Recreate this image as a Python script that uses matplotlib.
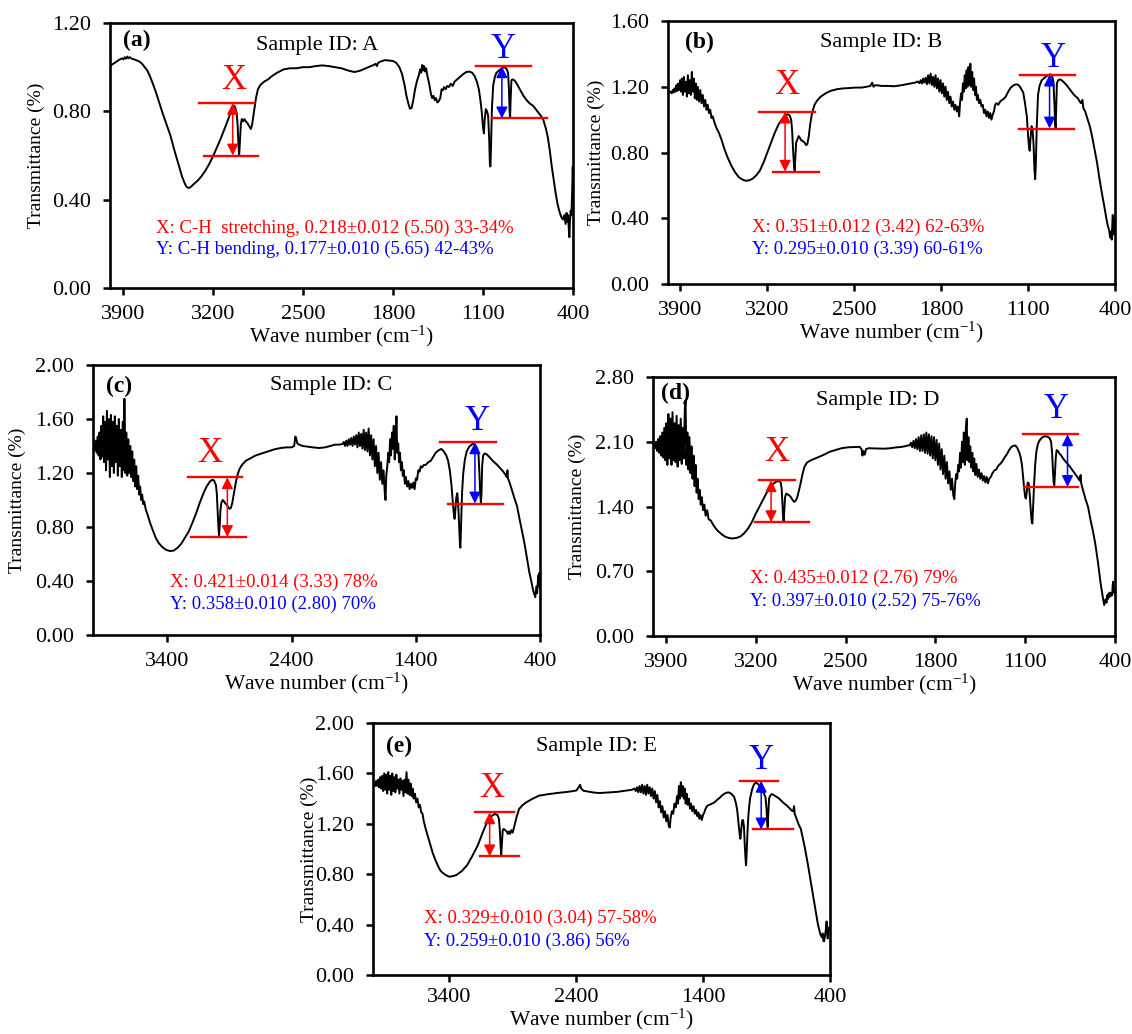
import matplotlib
matplotlib.use('Agg')
import matplotlib.pyplot as plt

plt.rcParams['font.family'] = ['Liberation Serif', 'DejaVu Serif']
plt.rcParams['mathtext.fontset'] = 'custom'
plt.rcParams['mathtext.rm'] = 'Liberation Serif'
plt.rcParams['mathtext.it'] = 'Liberation Serif:italic'

# ---------------- Spectrum data (wavenumber, transmittance) ----------------
a_points = [
    (4000, 1.005), (3975, 1.015), (3950, 1.025), (3925, 1.035), (3905, 1.04), (3895, 1.035), (3885, 1.045),
    (3875, 1.038), (3865, 1.048), (3855, 1.04), (3845, 1.045), (3830, 1.038), (3810, 1.035), (3790, 1.03),
    (3770, 1.025), (3750, 1.015), (3730, 1.0), (3710, 0.985), (3690, 0.96), (3670, 0.93), (3645, 0.89),
    (3620, 0.845), (3590, 0.79), (3560, 0.74), (3530, 0.69), (3500, 0.625), (3470, 0.565), (3440, 0.505),
    (3420, 0.475), (3405, 0.458), (3390, 0.453), (3375, 0.456), (3350, 0.47), (3320, 0.485), (3290, 0.505),
    (3260, 0.53), (3230, 0.56), (3200, 0.595), (3170, 0.635), (3140, 0.675), (3110, 0.72), (3080, 0.765),
    (3060, 0.80), (3045, 0.82), (3035, 0.826), (3025, 0.815), (3015, 0.79), (3008, 0.74), (3002, 0.66),
    (2996, 0.60), (2990, 0.66), (2983, 0.74), (2975, 0.765), (2965, 0.755), (2955, 0.765), (2945, 0.755),
    (2930, 0.745), (2915, 0.73), (2905, 0.72), (2895, 0.74), (2880, 0.80), (2865, 0.86), (2850, 0.90),
    (2830, 0.92), (2800, 0.935), (2770, 0.945), (2740, 0.96), (2700, 0.975), (2650, 0.99), (2600, 0.995),
    (2550, 0.995), (2500, 1.0), (2450, 1.0), (2400, 1.005), (2350, 1.008), (2300, 1.005), (2250, 1.0),
    (2200, 0.995), (2150, 0.985), (2100, 0.978), (2060, 0.983), (2020, 0.993), (1980, 1.003), (1950, 1.01),
    (1935, 1.015), (1925, 1.005), (1915, 1.02), (1890, 1.027), (1860, 1.032), (1830, 1.03), (1800, 1.028),
    (1775, 1.02), (1750, 1.0), (1730, 0.97), (1710, 0.92), (1695, 0.87), (1680, 0.835), (1668, 0.812),
    (1655, 0.815), (1642, 0.85), (1628, 0.9), (1612, 0.94), (1598, 0.965), (1588, 0.99), (1580, 0.975),
    (1572, 1.01), (1565, 0.985), (1558, 1.005), (1550, 0.98), (1542, 0.995), (1532, 0.96), (1520, 0.93),
    (1505, 0.88), (1495, 0.86), (1485, 0.87), (1475, 0.85), (1465, 0.86), (1455, 0.84), (1445, 0.845),
    (1432, 0.86), (1422, 0.90), (1412, 0.895), (1402, 0.91), (1390, 0.9), (1378, 0.915), (1365, 0.91),
    (1350, 0.925), (1335, 0.915), (1320, 0.935), (1300, 0.945), (1280, 0.955), (1255, 0.968), (1230, 0.978),
    (1205, 0.98), (1185, 0.975), (1165, 0.96), (1148, 0.935), (1132, 0.90), (1120, 0.85), (1110, 0.80),
    (1100, 0.73), (1093, 0.70), (1087, 0.76), (1078, 0.81), (1068, 0.80), (1060, 0.78), (1052, 0.68),
    (1046, 0.56), (1042, 0.55), (1037, 0.65), (1030, 0.82), (1020, 0.92), (1008, 0.955), (995, 0.975),
    (965, 0.99), (945, 0.998), (930, 1.0), (915, 0.99), (905, 0.975), (898, 0.90), (893, 0.80), (889, 0.77),
    (885, 0.85), (879, 0.94), (870, 0.945), (855, 0.94), (842, 0.93), (825, 0.912), (805, 0.89), (785, 0.87),
    (760, 0.85), (735, 0.835), (710, 0.825), (690, 0.81), (670, 0.795), (650, 0.78), (630, 0.76), (610, 0.72),
    (595, 0.68), (580, 0.62), (565, 0.55), (550, 0.49), (535, 0.43), (520, 0.38), (505, 0.345), (490, 0.32),
    (478, 0.31), (468, 0.33), (458, 0.29), (450, 0.34), (444, 0.30), (438, 0.33), (432, 0.26), (428, 0.23),
    (424, 0.30), (418, 0.35), (412, 0.33), (406, 0.45), (402, 0.55), (400, 0.50),
]

b_points = [
    (4000, 1.16), (3990, 1.165), (3980, 1.17), (3970, 1.16), (3962, 1.18), (3955, 1.165), (3948, 1.19),
    (3940, 1.17), (3932, 1.21), (3925, 1.175), (3918, 1.22), (3910, 1.18), (3902, 1.24), (3895, 1.17),
    (3888, 1.25), (3880, 1.15), (3872, 1.26), (3864, 1.17), (3856, 1.23), (3848, 1.14), (3840, 1.27),
    (3832, 1.16), (3824, 1.24), (3816, 1.15), (3808, 1.29), (3800, 1.17), (3792, 1.25), (3784, 1.13),
    (3776, 1.22), (3768, 1.12), (3760, 1.20), (3750, 1.11), (3740, 1.18), (3730, 1.10), (3720, 1.15),
    (3710, 1.08), (3700, 1.12), (3690, 1.06), (3680, 1.09), (3670, 1.04), (3660, 1.06), (3650, 1.01),
    (3640, 1.02), (3625, 0.98), (3610, 0.95), (3590, 0.92), (3570, 0.88), (3545, 0.82), (3520, 0.77),
    (3490, 0.72), (3460, 0.68), (3430, 0.65), (3400, 0.635), (3375, 0.628), (3350, 0.63), (3320, 0.64),
    (3290, 0.66), (3260, 0.69), (3230, 0.74), (3200, 0.80), (3170, 0.86), (3140, 0.92), (3110, 0.97),
    (3080, 1.005), (3055, 1.025), (3035, 1.033), (3020, 1.025), (3008, 1.0), (3000, 0.93), (2993, 0.82),
    (2985, 0.72), (2980, 0.69), (2975, 0.76), (2968, 0.86), (2958, 0.88), (2948, 0.90), (2938, 0.89),
    (2928, 0.875), (2915, 0.87), (2900, 0.86), (2888, 0.845), (2878, 0.85), (2866, 0.90), (2855, 0.97),
    (2840, 1.04), (2820, 1.09), (2800, 1.115), (2770, 1.14), (2730, 1.16), (2690, 1.175), (2640, 1.185),
    (2590, 1.19), (2540, 1.192), (2490, 1.195), (2440, 1.195), (2400, 1.2), (2370, 1.205), (2355, 1.225),
    (2345, 1.2), (2330, 1.21), (2280, 1.205), (2230, 1.205), (2180, 1.203), (2130, 1.208), (2080, 1.215),
    (2040, 1.22), (2010, 1.225), (1990, 1.232), (1975, 1.222), (1965, 1.24), (1955, 1.22), (1945, 1.25),
    (1935, 1.225), (1925, 1.255), (1915, 1.215), (1905, 1.27), (1895, 1.22), (1885, 1.28), (1875, 1.21),
    (1865, 1.26), (1855, 1.2), (1845, 1.27), (1835, 1.19), (1825, 1.25), (1815, 1.17), (1805, 1.24),
    (1795, 1.16), (1785, 1.22), (1775, 1.14), (1765, 1.2), (1755, 1.12), (1745, 1.17), (1735, 1.1),
    (1725, 1.14), (1715, 1.08), (1705, 1.11), (1695, 1.06), (1685, 1.09), (1675, 1.05), (1665, 1.08),
    (1655, 1.02), (1648, 1.10), (1640, 1.16), (1632, 1.12), (1625, 1.22), (1618, 1.17), (1610, 1.27),
    (1602, 1.19), (1595, 1.30), (1588, 1.2), (1580, 1.32), (1572, 1.21), (1565, 1.34), (1558, 1.2),
    (1550, 1.29), (1542, 1.18), (1535, 1.25), (1527, 1.15), (1520, 1.2), (1512, 1.12), (1505, 1.15),
    (1495, 1.1), (1485, 1.12), (1475, 1.08), (1465, 1.09), (1455, 1.04), (1445, 1.06), (1435, 1.02),
    (1425, 1.05), (1415, 1.01), (1405, 1.04), (1395, 1.0), (1385, 1.03), (1375, 1.05), (1365, 1.09),
    (1355, 1.1), (1340, 1.09), (1325, 1.11), (1310, 1.12), (1298, 1.125), (1280, 1.14), (1260, 1.17),
    (1240, 1.195), (1215, 1.21), (1195, 1.215), (1180, 1.212), (1165, 1.20), (1150, 1.18), (1139, 1.165),
    (1125, 1.10), (1110, 1.02), (1100, 0.90), (1092, 0.83), (1087, 0.81), (1081, 0.88), (1072, 0.96),
    (1064, 0.94), (1056, 0.85), (1049, 0.70), (1043, 0.638), (1038, 0.72), (1030, 0.96), (1020, 1.15),
    (1008, 1.205), (990, 1.24), (965, 1.256), (940, 1.27), (922, 1.276), (905, 1.26), (896, 1.23),
    (888, 1.10), (882, 0.98), (878, 0.95), (874, 1.05), (868, 1.22), (858, 1.24), (840, 1.245), (815, 1.23),
    (790, 1.21), (760, 1.18), (730, 1.15), (700, 1.13), (675, 1.10), (662, 1.12), (655, 1.07), (640, 1.05),
    (620, 1.00), (603, 0.96), (585, 0.90), (565, 0.82), (545, 0.74), (525, 0.64), (505, 0.55), (487, 0.476),
    (470, 0.40), (458, 0.354), (448, 0.33), (440, 0.29), (435, 0.28), (430, 0.32), (426, 0.27), (422, 0.36),
    (418, 0.42), (414, 0.34), (410, 0.40), (406, 0.30), (402, 0.36), (400, 0.33),
]

c_points = [
    (4000, 1.40), (3992, 1.42), (3985, 1.37), (3978, 1.44), (3970, 1.35), (3962, 1.47), (3955, 1.33),
    (3948, 1.50), (3940, 1.30), (3932, 1.55), (3925, 1.32), (3918, 1.62), (3910, 1.28), (3902, 1.58),
    (3895, 1.22), (3888, 1.66), (3880, 1.30), (3872, 1.60), (3864, 1.17), (3856, 1.63), (3848, 1.25),
    (3840, 1.58), (3832, 1.20), (3824, 1.62), (3816, 1.28), (3808, 1.55), (3800, 1.18), (3792, 1.60),
    (3784, 1.25), (3776, 1.52), (3768, 1.17), (3760, 1.58), (3752, 1.22), (3747, 1.75), (3740, 1.20),
    (3732, 1.50), (3724, 1.18), (3716, 1.45), (3708, 1.20), (3700, 1.40), (3692, 1.17), (3684, 1.36),
    (3676, 1.14), (3668, 1.30), (3660, 1.10), (3652, 1.25), (3644, 1.08), (3636, 1.18), (3628, 1.04),
    (3620, 1.10), (3612, 1.0), (3604, 1.04), (3596, 0.97), (3588, 0.99), (3575, 0.93), (3560, 0.89),
    (3540, 0.83), (3520, 0.78), (3495, 0.72), (3470, 0.68), (3440, 0.65), (3410, 0.63), (3380, 0.622),
    (3350, 0.625), (3320, 0.645), (3290, 0.675), (3260, 0.72), (3230, 0.765), (3200, 0.83), (3170, 0.90),
    (3140, 0.98), (3110, 1.05), (3085, 1.10), (3060, 1.135), (3040, 1.15), (3025, 1.145), (3010, 1.11),
    (3003, 1.05), (2996, 0.92), (2990, 0.80), (2985, 0.735), (2980, 0.80), (2974, 0.92), (2966, 0.98),
    (2955, 1.0), (2945, 0.99), (2935, 0.975), (2922, 0.965), (2910, 0.945), (2900, 0.935), (2890, 0.94),
    (2878, 0.98), (2865, 1.05), (2850, 1.13), (2835, 1.19), (2820, 1.23), (2800, 1.26), (2770, 1.29),
    (2730, 1.31), (2690, 1.33), (2640, 1.345), (2590, 1.36), (2540, 1.375), (2490, 1.385), (2440, 1.39),
    (2400, 1.39), (2380, 1.40), (2370, 1.47), (2362, 1.45), (2355, 1.42), (2340, 1.41), (2310, 1.40),
    (2270, 1.395), (2230, 1.39), (2180, 1.385), (2130, 1.39), (2090, 1.40), (2050, 1.41), (2020, 1.41),
    (1990, 1.415), (1980, 1.43), (1970, 1.40), (1960, 1.44), (1950, 1.40), (1940, 1.45), (1930, 1.41),
    (1920, 1.46), (1910, 1.40), (1900, 1.47), (1890, 1.41), (1880, 1.48), (1870, 1.39), (1860, 1.50),
    (1850, 1.40), (1840, 1.49), (1830, 1.38), (1820, 1.52), (1810, 1.37), (1800, 1.50), (1790, 1.36),
    (1780, 1.53), (1770, 1.33), (1760, 1.48), (1750, 1.30), (1740, 1.45), (1730, 1.25), (1720, 1.40),
    (1710, 1.20), (1700, 1.35), (1690, 1.15), (1680, 1.28), (1670, 1.12), (1660, 1.22), (1650, 1.05),
    (1644, 1.00), (1638, 1.18), (1630, 1.25), (1622, 1.35), (1615, 1.28), (1607, 1.45), (1600, 1.33),
    (1592, 1.50), (1585, 1.38), (1578, 1.55), (1570, 1.30), (1562, 1.45), (1556, 1.62), (1550, 1.35),
    (1542, 1.42), (1535, 1.28), (1528, 1.35), (1520, 1.22), (1512, 1.28), (1505, 1.18), (1497, 1.22),
    (1488, 1.12), (1480, 1.17), (1470, 1.10), (1460, 1.14), (1450, 1.08), (1440, 1.12), (1430, 1.09),
    (1420, 1.13), (1410, 1.08), (1400, 1.16), (1390, 1.15), (1380, 1.22), (1370, 1.21), (1360, 1.25),
    (1350, 1.24), (1335, 1.26), (1320, 1.26), (1300, 1.28), (1280, 1.29), (1260, 1.32), (1240, 1.35),
    (1215, 1.37), (1195, 1.378), (1175, 1.36), (1155, 1.33), (1140, 1.29), (1125, 1.21), (1112, 1.10),
    (1102, 0.98), (1094, 0.90), (1088, 0.86), (1082, 0.92), (1074, 1.02), (1066, 1.05), (1058, 0.95),
    (1050, 0.78), (1044, 0.66), (1041, 0.647), (1036, 0.80), (1028, 1.05), (1018, 1.20), (1005, 1.30),
    (990, 1.36), (970, 1.395), (950, 1.41), (938, 1.417), (920, 1.405), (905, 1.38), (895, 1.33),
    (888, 1.20), (882, 1.05), (876, 0.98), (871, 1.05), (866, 1.25), (858, 1.33), (845, 1.345),
    (825, 1.335), (800, 1.31), (775, 1.285), (750, 1.265), (725, 1.24), (700, 1.215), (680, 1.19),
    (668, 1.17), (662, 1.22), (658, 1.16), (645, 1.13), (625, 1.07), (605, 1.01), (585, 0.955), (565, 0.86),
    (545, 0.77), (526, 0.684), (505, 0.57), (485, 0.46), (468, 0.389), (455, 0.33), (445, 0.30), (438, 0.28),
    (432, 0.33), (427, 0.36), (423, 0.31), (418, 0.39), (414, 0.44), (410, 0.38), (406, 0.46), (402, 0.35),
    (400, 0.40),
]

d_points = [
    (4000, 2.06), (3992, 2.07), (3984, 2.03), (3976, 2.10), (3968, 2.00), (3960, 2.13), (3952, 1.98),
    (3944, 2.16), (3936, 1.95), (3928, 2.20), (3920, 1.93), (3912, 2.25), (3904, 1.90), (3896, 2.30),
    (3888, 1.85), (3880, 2.40), (3872, 1.92), (3864, 2.35), (3856, 1.85), (3848, 2.42), (3840, 1.90),
    (3832, 2.30), (3824, 1.88), (3816, 2.38), (3808, 1.83), (3800, 2.28), (3792, 1.90), (3784, 2.35),
    (3776, 1.86), (3768, 2.25), (3760, 1.92), (3752, 2.45), (3746, 2.55), (3740, 1.85), (3732, 2.20),
    (3724, 1.80), (3716, 2.15), (3708, 1.76), (3700, 2.05), (3692, 1.70), (3684, 1.95), (3676, 1.62),
    (3668, 1.85), (3660, 1.55), (3652, 1.70), (3644, 1.48), (3636, 1.58), (3628, 1.42), (3620, 1.50),
    (3610, 1.36), (3600, 1.42), (3590, 1.30), (3578, 1.36), (3566, 1.26), (3550, 1.25), (3530, 1.20),
    (3510, 1.16), (3490, 1.13), (3465, 1.10), (3440, 1.075), (3410, 1.06), (3382, 1.054), (3350, 1.06),
    (3320, 1.075), (3290, 1.11), (3260, 1.16), (3230, 1.23), (3200, 1.32), (3170, 1.40), (3140, 1.48),
    (3110, 1.56), (3088, 1.61), (3060, 1.65), (3040, 1.668), (3020, 1.677), (3005, 1.66), (2998, 1.60),
    (2992, 1.45), (2987, 1.30), (2982, 1.234), (2977, 1.35), (2971, 1.50), (2962, 1.54), (2950, 1.53),
    (2938, 1.52), (2925, 1.50), (2912, 1.47), (2900, 1.45), (2890, 1.46), (2878, 1.49), (2865, 1.56),
    (2850, 1.65), (2835, 1.75), (2820, 1.83), (2800, 1.875), (2770, 1.90), (2738, 1.918), (2700, 1.94),
    (2660, 1.965), (2626, 1.99), (2580, 2.01), (2530, 2.03), (2480, 2.04), (2420, 2.044), (2390, 2.045),
    (2375, 2.02), (2368, 1.95), (2360, 2.0), (2350, 1.96), (2340, 2.02), (2320, 2.03), (2280, 2.028),
    (2240, 2.025), (2200, 2.025), (2150, 2.03), (2100, 2.04), (2066, 2.044), (2040, 2.05), (2015, 2.06),
    (2000, 2.06), (1990, 2.09), (1980, 2.04), (1970, 2.11), (1960, 2.03), (1950, 2.13), (1940, 2.02),
    (1930, 2.15), (1920, 2.0), (1910, 2.17), (1900, 2.0), (1890, 2.18), (1880, 1.98), (1870, 2.20),
    (1860, 1.97), (1850, 2.18), (1840, 1.95), (1830, 2.16), (1820, 1.92), (1810, 2.15), (1800, 1.90),
    (1790, 2.12), (1780, 1.85), (1770, 2.08), (1760, 1.80), (1750, 2.02), (1740, 1.75), (1730, 1.95),
    (1720, 1.70), (1710, 1.88), (1700, 1.65), (1690, 1.78), (1680, 1.58), (1670, 1.70), (1660, 1.52),
    (1652, 1.48), (1645, 1.65), (1638, 1.75), (1630, 1.70), (1622, 1.85), (1615, 1.78), (1607, 1.98),
    (1600, 1.82), (1592, 2.10), (1585, 1.88), (1578, 2.20), (1570, 1.85), (1562, 2.25), (1555, 2.35),
    (1550, 1.90), (1542, 2.15), (1535, 1.88), (1528, 2.05), (1520, 1.82), (1512, 1.98), (1505, 1.78),
    (1497, 1.92), (1488, 1.74), (1480, 1.86), (1470, 1.72), (1460, 1.80), (1450, 1.70), (1440, 1.76),
    (1430, 1.68), (1420, 1.73), (1410, 1.66), (1400, 1.72), (1390, 1.65), (1380, 1.70), (1368, 1.72),
    (1355, 1.76), (1340, 1.79), (1325, 1.80), (1310, 1.84), (1295, 1.86), (1282, 1.88), (1260, 1.93),
    (1240, 1.97), (1226, 2.008), (1210, 2.04), (1195, 2.055), (1176, 2.06), (1160, 2.03), (1145, 1.98),
    (1136, 1.936), (1125, 1.85), (1115, 1.70), (1108, 1.60), (1100, 1.50), (1094, 1.486), (1088, 1.55),
    (1080, 1.66), (1072, 1.65), (1064, 1.52), (1056, 1.35), (1050, 1.25), (1044, 1.216), (1038, 1.40),
    (1030, 1.65), (1022, 1.85), (1012, 2.0), (1000, 2.08), (985, 2.12), (965, 2.15), (946, 2.159),
    (925, 2.155), (910, 2.14), (898, 2.10), (890, 1.98), (884, 1.80), (878, 1.66), (873, 1.63), (868, 1.75),
    (862, 1.92), (855, 2.01), (845, 2.0), (832, 1.97), (820, 1.954), (800, 1.91), (775, 1.87), (750, 1.828),
    (720, 1.77), (694, 1.72), (675, 1.68), (668, 1.74), (663, 1.65), (650, 1.58), (630, 1.48), (610, 1.396),
    (590, 1.25), (570, 1.12), (554, 1.0), (535, 0.82), (512, 0.569), (495, 0.42), (484, 0.335), (478, 0.37),
    (472, 0.40), (466, 0.36), (460, 0.44), (455, 0.40), (450, 0.46), (445, 0.42), (440, 0.47), (434, 0.43),
    (428, 0.46), (422, 0.44), (418, 0.55), (414, 0.587), (410, 0.50), (405, 0.47), (400, 0.45),
]

e_points = [
    (4000, 1.51), (3992, 1.52), (3984, 1.50), (3976, 1.54), (3968, 1.50), (3960, 1.55), (3952, 1.49),
    (3944, 1.57), (3936, 1.48), (3928, 1.58), (3920, 1.46), (3912, 1.60), (3904, 1.47), (3896, 1.59),
    (3888, 1.44), (3880, 1.61), (3872, 1.47), (3864, 1.58), (3856, 1.43), (3848, 1.60), (3840, 1.46),
    (3832, 1.57), (3824, 1.45), (3816, 1.59), (3808, 1.48), (3800, 1.55), (3792, 1.44), (3784, 1.56),
    (3776, 1.47), (3768, 1.54), (3760, 1.42), (3752, 1.55), (3744, 1.45), (3736, 1.61), (3728, 1.44),
    (3720, 1.55), (3712, 1.43), (3704, 1.52), (3696, 1.42), (3688, 1.48), (3680, 1.40), (3670, 1.44),
    (3660, 1.37), (3650, 1.40), (3640, 1.33), (3630, 1.35), (3620, 1.29), (3610, 1.28), (3600, 1.22),
    (3585, 1.16), (3570, 1.108), (3550, 1.04), (3530, 0.97), (3513, 0.924), (3490, 0.87), (3470, 0.83),
    (3456, 0.815), (3430, 0.795), (3400, 0.78), (3370, 0.785), (3344, 0.793), (3300, 0.825), (3259, 0.871),
    (3220, 0.94), (3174, 1.03), (3140, 1.12), (3103, 1.21), (3080, 1.245), (3061, 1.265), (3040, 1.278),
    (3020, 1.27), (3008, 1.24), (3001, 1.15), (2995, 1.02), (2990, 0.95), (2985, 1.03), (2978, 1.15),
    (2970, 1.16), (2960, 1.15), (2948, 1.14), (2938, 1.12), (2930, 1.14), (2920, 1.12), (2910, 1.15),
    (2900, 1.13), (2892, 1.16), (2870, 1.25), (2849, 1.318), (2820, 1.35), (2793, 1.37), (2750, 1.395),
    (2694, 1.423), (2620, 1.435), (2553, 1.444), (2480, 1.452), (2420, 1.46), (2397, 1.465), (2380, 1.49),
    (2369, 1.51), (2360, 1.48), (2341, 1.462), (2300, 1.455), (2260, 1.448), (2214, 1.444), (2150, 1.448),
    (2100, 1.452), (2072, 1.454), (2030, 1.46), (1990, 1.466), (1960, 1.47), (1940, 1.48), (1930, 1.46),
    (1920, 1.49), (1910, 1.45), (1900, 1.50), (1890, 1.45), (1880, 1.51), (1870, 1.44), (1860, 1.50),
    (1850, 1.43), (1840, 1.51), (1830, 1.44), (1820, 1.49), (1810, 1.42), (1800, 1.48), (1790, 1.40),
    (1780, 1.46), (1770, 1.37), (1760, 1.43), (1750, 1.33), (1740, 1.38), (1730, 1.29), (1720, 1.34),
    (1710, 1.25), (1700, 1.30), (1690, 1.22), (1680, 1.27), (1670, 1.18), (1662, 1.17), (1655, 1.25),
    (1645, 1.30), (1635, 1.28), (1625, 1.36), (1615, 1.33), (1605, 1.42), (1597, 1.36), (1590, 1.50),
    (1582, 1.40), (1575, 1.53), (1567, 1.42), (1560, 1.50), (1552, 1.40), (1545, 1.48), (1537, 1.36),
    (1530, 1.44), (1521, 1.35), (1512, 1.40), (1503, 1.32), (1495, 1.36), (1485, 1.30), (1475, 1.34),
    (1465, 1.28), (1455, 1.31), (1445, 1.26), (1437, 1.29), (1428, 1.24), (1420, 1.27), (1410, 1.23),
    (1400, 1.27), (1390, 1.29), (1380, 1.32), (1366, 1.344), (1350, 1.35), (1330, 1.36), (1310, 1.37),
    (1290, 1.39), (1270, 1.405), (1253, 1.423), (1230, 1.44), (1210, 1.448), (1197, 1.449), (1180, 1.44),
    (1165, 1.425), (1154, 1.41), (1140, 1.36), (1130, 1.30), (1120, 1.20), (1112, 1.12), (1106, 1.081),
    (1099, 1.15), (1092, 1.226), (1085, 1.23), (1078, 1.18), (1070, 1.00), (1064, 0.90), (1061, 0.871),
    (1056, 0.98), (1048, 1.18), (1041, 1.291), (1030, 1.40), (1013, 1.475), (1000, 1.51), (985, 1.528),
    (965, 1.515), (942, 1.475), (920, 1.44), (908, 1.41), (900, 1.32), (895, 1.22), (891, 1.173),
    (886, 1.28), (880, 1.40), (870, 1.425), (857, 1.436), (830, 1.42), (800, 1.40), (771, 1.37),
    (740, 1.345), (715, 1.32), (701, 1.304), (690, 1.30), (683, 1.34), (678, 1.28), (660, 1.23),
    (645, 1.19), (630, 1.16), (600, 1.02), (573, 0.871), (545, 0.70), (517, 0.53), (495, 0.40), (475, 0.32),
    (465, 0.30), (458, 0.33), (452, 0.27), (446, 0.268), (440, 0.31), (435, 0.34), (430, 0.38),
    (427, 0.425), (423, 0.33), (418, 0.29), (412, 0.35), (406, 0.38), (400, 0.36),
]

# ---------------- Axis ticks ----------------
a_yticks = [0.00, 0.40, 0.80, 1.20]
b_yticks = [0.00, 0.40, 0.80, 1.20, 1.60]
c_yticks = [0.00, 0.40, 0.80, 1.20, 1.60, 2.00]
d_yticks = [0.00, 0.70, 1.40, 2.10, 2.80]
e_yticks = [0.00, 0.40, 0.80, 1.20, 1.60, 2.00]
xticks_700 = [3900, 3200, 2500, 1800, 1100, 400]
xticks_1000 = [3400, 2400, 1400, 400]

# ---------------- Annotation values: (top level, top span, bottom level, bottom span, arrow x) --------
a_X = (0.838, (3306, 2882), 0.600, (3272, 2848), 3046)
a_Y = (1.004, (1151, 727), 0.768, (1029, 605), 953)
b_X = (1.049, (3268, 2819), 0.683, (3152, 2784), 3057)
b_Y = (1.274, (1168, 725), 0.946, (1174, 733), 927)
c_X = (1.168, (3238, 2797), 0.726, (3212, 2768), 2918)
c_Y = (1.427, (1203, 756), 0.974, (1144, 697), 924)
d_X = (1.684, (3172, 2892), 1.231, (3208, 2788), 3080)
d_Y = (2.180, (1114, 688), 1.612, (1108, 686), 770)
e_X = (1.291, (3197, 2886), 0.942, (3160, 2849), 3081)
e_Y = (1.541, (1106, 807), 1.155, (1004, 694), 942)

# Label texts
a_notes = ["X: C-H  stretching, 0.218\u00b10.012 (5.50) 33-34%", "Y: C-H bending, 0.177\u00b10.010 (5.65) 42-43%"]
b_notes = ["X: 0.351\u00b10.012 (3.42) 62-63%", "Y: 0.295\u00b10.010 (3.39) 60-61%"]
c_notes = ["X: 0.421\u00b10.014 (3.33) 78%", "Y: 0.358\u00b10.010 (2.80) 70%"]
d_notes = ["X: 0.435\u00b10.012 (2.76) 79%", "Y: 0.397\u00b10.010 (2.52) 75-76%"]
e_notes = ["X: 0.329\u00b10.010 (3.04) 57-58%", "Y: 0.259\u00b10.010 (3.86) 56%"]

RED = '#ff0000'
BLUE = '#0000ff'

W, H = 1132, 1034
fig = plt.figure(figsize=(W / 100, H / 100), dpi=100)


def rect(l, r, t, b):
    return [l / W, 1 - b / H, (r - l) / W, (b - t) / H]


panels = [
    dict(rect=rect(110, 573, 23, 288), pts=a_points, yt=a_yticks, xt=xticks_700, X=a_X, Y=a_Y,
         notes=a_notes, letter='(a)', sid='Sample ID: A', ylpad=5, xlpad=0, xpad=7,
         letter_pos=(3790, 1.12), sid_pos=(2387, 1.10), Xl=(3037, 0.94), Yl=(945, 1.08),
         note_pos=(3640, 0.272, 0.177)),
    dict(rect=rect(668, 1115, 21, 284), pts=b_points, yt=b_yticks, xt=xticks_700, X=b_X, Y=b_Y,
         notes=b_notes, letter='(b)', sid='Sample ID: B', ylpad=3.5, xlpad=0, xpad=7,
         letter_pos=(3750, 1.47), sid_pos=(2283, 1.472), Xl=(3042, 1.205), Yl=(898, 1.371),
         note_pos=(3321, 0.344, 0.213)),
    dict(rect=rect(93, 540, 365, 635), pts=c_points, yt=c_yticks, xt=xticks_1000, X=c_X, Y=c_Y,
         notes=c_notes, letter='(c)', sid='Sample ID: C', ylpad=6.5, xlpad=0, xpad=7,
         letter_pos=(3794, 1.84), sid_pos=(2085, 1.845), Xl=(3062, 1.348), Yl=(909, 1.58),
         note_pos=(3379, 0.389, 0.229)),
    dict(rect=rect(653, 1115, 377, 636), pts=d_points, yt=d_yticks, xt=xticks_700, X=d_X, Y=d_Y,
         notes=d_notes, letter='(d)', sid='Sample ID: D', ylpad=6.5, xlpad=0, xpad=7,
         letter_pos=(3825, 2.62), sid_pos=(2248, 2.548), Xl=(3032, 1.986), Yl=(862, 2.45),
         note_pos=(3248, 0.623, 0.371)),
    dict(rect=rect(373, 830, 723, 975), pts=e_points, yt=e_yticks, xt=xticks_1000, X=e_X, Y=e_Y,
         notes=e_notes, letter='(e)', sid='Sample ID: E', ylpad=-2, xlpad=0, xpad=4.5,
         letter_pos=(3792, 1.816), sid_pos=(2242, 1.816), Xl=(3061, 1.48), Yl=(942, 1.706),
         note_pos=(3598, 0.451, 0.268)),
]

for p in panels:
    ax = fig.add_axes(p['rect'])
    wn = [q[0] for q in p['pts']]
    tr = [q[1] for q in p['pts']]
    ax.plot(wn, tr, color='black', lw=1.4, solid_joinstyle='round')
    ax.set_xlim(4000, 400)
    ax.set_ylim(p['yt'][0], p['yt'][-1])
    ax.set_yticks(p['yt'])
    ax.set_yticklabels(['%.2f' % v for v in p['yt']])
    ax.set_xticks(p['xt'])
    ax.set_xticklabels([str(v) for v in p['xt']])
    ax.tick_params(axis='both', direction='out', length=5, width=1.8, labelsize=16,
                   top=False, right=False, pad=8.5)
    ax.tick_params(axis='x', pad=p['xpad'])
    for s in ax.spines.values():
        s.set_linewidth(1.9)
    ax.set_xlabel(r'Wave number (cm$^{\mathregular{-1}}$)', fontsize=15.5, labelpad=p['xlpad'])
    ax.set_ylabel('Transmittance (%)', fontsize=14, labelpad=p['ylpad'])

    # annotation lines and arrows
    for key, acol in (('X', RED), ('Y', BLUE)):
        top, tspan, bot, bspan, axx = p[key]
        ax.plot(tspan, [top, top], color=RED, lw=1.7)
        ax.plot(bspan, [bot, bot], color=RED, lw=1.7)
        ax.annotate('', xy=(axx, top), xytext=(axx, bot),
                    arrowprops=dict(arrowstyle='<|-|>', color=acol, lw=1.1,
                                    mutation_scale=17, shrinkA=0, shrinkB=0))
    ax.text(*p['Xl'], 'X', color=RED, fontsize=25, ha='center', va='center')
    ax.text(*p['Yl'], 'Y', color=BLUE, fontsize=25, ha='center', va='center')
    ax.text(*p['letter_pos'], p['letter'], fontsize=17, fontweight='bold', ha='center', va='center')
    ax.text(*p['sid_pos'], p['sid'], fontsize=16, ha='center', va='center')
    nx, ny1, ny2 = p['note_pos']
    ax.text(nx, ny1, p['notes'][0], color=RED, fontsize=13.5, ha='left', va='center')
    ax.text(nx, ny2, p['notes'][1], color=BLUE, fontsize=13.5, ha='left', va='center')

fig.savefig('out.png', dpi=100)
